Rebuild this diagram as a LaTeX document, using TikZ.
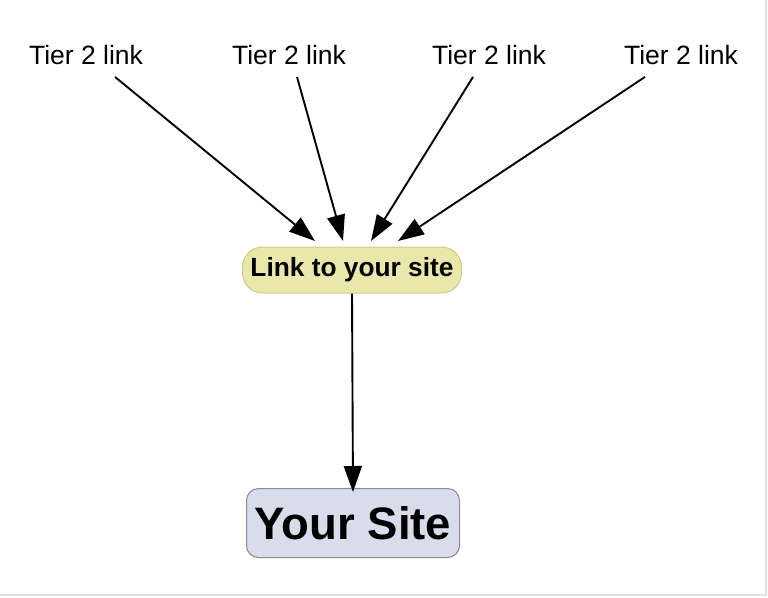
\documentclass[tikz,border=0pt]{standalone}
\usepackage{fontspec}
\setmainfont{Liberation Sans}
\usetikzlibrary{arrows.meta}

\definecolor{linkfill}{HTML}{E9E7AA}
\definecolor{linkdraw}{HTML}{CFCB8C}
\definecolor{sitefill}{HTML}{D9DCEB}
\definecolor{sitedraw}{HTML}{8A8A95}

\tikzset{
    tier/.style={font=\fontsize{26.5}{29}\selectfont, inner sep=0pt},
    arr/.style={-{Triangle[length=26pt,width=18pt]}, line width=1.9pt},
}

\begin{document}
\begin{tikzpicture}[x=1pt, y=-1pt]
            \useasboundingbox (0, 0) rectangle (768, 597);
            \draw[black!12, line width=1.5pt] (766, 0) -- (766, 595) -- (0, 595);

            \node[tier] (t1) at (86, 55) {Tier 2 link};
            \node[tier] (t2) at (289, 55) {Tier 2 link};
            \node[tier] (t3) at (489, 55) {Tier 2 link};
            \node[tier] (t4) at (681, 55) {Tier 2 link};

            \node[draw=linkdraw, fill=linkfill, line width=1pt, rounded corners=20pt,
                  minimum width=219pt, minimum height=46pt,
                  font=\bfseries\fontsize{26.3}{29}\selectfont] (link) at (352, 270) {Link to your site};

            \node[draw=sitedraw, fill=sitefill, line width=1pt, rounded corners=12pt,
                  minimum width=213pt, minimum height=69pt,
                  font=\bfseries\fontsize{45.5}{49}\selectfont] (site) at (353, 523) {Your Site};

            \coordinate (e1) at (315, 241);
            \coordinate (e2) at (343, 241);
            \coordinate (e3) at (371, 241);
            \coordinate (e4) at (398, 241);

            \draw[arr] ([shift={(29, 12)}]t1.south) -- (e1);
            \draw[arr] ([shift={(8, 12)}]t2.south) -- (e2);
            \draw[arr] ([shift={(-16, 12)}]t3.south) -- (e3);
            \draw[arr] ([shift={(-36, 12)}]t4.south) -- (e4);

            \draw[arr] (link.south) -- ([yshift=-4]site.north);

        \end{tikzpicture}
\end{document}
